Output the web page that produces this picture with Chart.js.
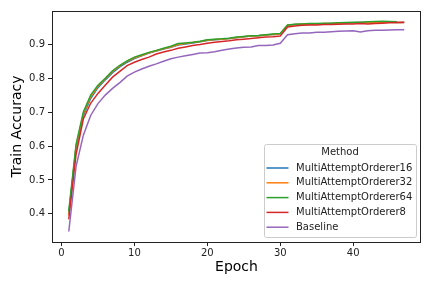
<!DOCTYPE html>
<html>
<head>
<meta charset="utf-8">
<script src="https://cdn.jsdelivr.net/npm/chart.js@4/dist/chart.umd.min.js"></script>
<style>
  html, body { margin: 0; padding: 0; background: #fff; }
  canvas { display: block; }
</style>
</head>
<body>
<canvas id="acc-chart" width="432" height="288"></canvas>
<script>

// epochs 1..47
const epochs = [
   1,  2,  3,  4,  5,  6,  7,  8,  9, 10,
  11, 12, 13, 14, 15, 16, 17, 18, 19, 20,
  21, 22, 23, 24, 25, 26, 27, 28, 29, 30,
  31, 32, 33, 34, 35, 36, 37, 38, 39, 40,
  41, 42, 43, 44, 45, 46, 47
];

const methods = [
  "MultiAttemptOrderer16",
  "MultiAttemptOrderer32",
  "MultiAttemptOrderer64",
  "MultiAttemptOrderer8",
  "Baseline"
];

const colors = ["#1f77b4", "#ff7f0e", "#2ca02c", "#d62728", "#9467bd"];

const mao16 = [
  0.400, 0.595, 0.690, 0.740, 0.772, 0.795, 0.816, 0.833, 0.847, 0.858,
  0.866, 0.874, 0.880, 0.886, 0.891, 0.898, 0.901, 0.904, 0.907, 0.911,
  0.913, 0.915, 0.917, 0.919, 0.922, 0.924, 0.925, 0.927, 0.929, 0.930,
  0.955, 0.958, 0.959, 0.959, 0.960, 0.960, 0.961, 0.962, 0.962, 0.963,
  0.964, 0.964, 0.965, 0.966, 0.965, 0.964, 0.964
];

const mao32 = [
  0.395, 0.600, 0.695, 0.745, 0.776, 0.798, 0.820, 0.836, 0.850, 0.860,
  0.867, 0.875, 0.881, 0.887, 0.892, 0.899, 0.902, 0.905, 0.908, 0.912,
  0.914, 0.915, 0.917, 0.920, 0.922, 0.924, 0.925, 0.927, 0.929, 0.931,
  0.956, 0.958, 0.959, 0.960, 0.960, 0.961, 0.961, 0.962, 0.963, 0.963,
  0.964, 0.963, 0.964, 0.965, 0.965, 0.964, 0.964
];

// 46 epochs only
const mao64 = [
  0.408, 0.605, 0.700, 0.750, 0.779, 0.800, 0.822, 0.838, 0.851, 0.862,
  0.869, 0.876, 0.882, 0.888, 0.894, 0.902, 0.904, 0.906, 0.909, 0.913,
  0.915, 0.916, 0.918, 0.921, 0.923, 0.925, 0.926, 0.928, 0.930, 0.932,
  0.957, 0.959, 0.960, 0.961, 0.961, 0.962, 0.962, 0.963, 0.964, 0.965,
  0.965, 0.966, 0.967, 0.968, 0.967, 0.966
];

const mao8 = [
  0.384, 0.575, 0.680, 0.726, 0.755, 0.779, 0.803, 0.820, 0.837, 0.847,
  0.855, 0.862, 0.871, 0.877, 0.882, 0.888, 0.892, 0.896, 0.899, 0.903,
  0.906, 0.908, 0.910, 0.913, 0.915, 0.917, 0.919, 0.921, 0.922, 0.924,
  0.951, 0.954, 0.956, 0.957, 0.957, 0.958, 0.958, 0.959, 0.960, 0.960,
  0.961, 0.960, 0.961, 0.962, 0.963, 0.964, 0.965
];

const baseline = [
  0.348, 0.540, 0.632, 0.690, 0.725, 0.750, 0.770, 0.787, 0.806, 0.818,
  0.827, 0.835, 0.842, 0.850, 0.857, 0.862, 0.866, 0.870, 0.874, 0.875,
  0.878, 0.882, 0.886, 0.889, 0.891, 0.892, 0.896, 0.896, 0.898, 0.903,
  0.928, 0.931, 0.933, 0.933, 0.935, 0.935, 0.937, 0.938, 0.939, 0.940,
  0.936, 0.940, 0.941, 0.941, 0.942, 0.943, 0.943
];

const xTicks = [0, 10, 20, 30, 40];
const yTicks = [0.4, 0.5, 0.6, 0.7, 0.8, 0.9];

const series = [mao16, mao32, mao64, mao8, baseline];


/**
 * box round the plot, matplotlib style
 */
const frame = {
  id: "frame",
  afterDatasetsDraw(chart) {
    const { ctx, chartArea: a } = chart;
    ctx.save();
    ctx.strokeStyle = "#222";
    ctx.lineWidth = 1;
    ctx.strokeRect(a.left + 0.5, a.top + 0.5, a.right - a.left - 1, a.bottom - a.top);
    ctx.restore();
  }
};


/**
 * legend in the lower right, inside the axes
 */
const boxLegend = {
  id: "boxLegend",
  afterDraw(chart) {
    const { ctx, chartArea: a } = chart;
    const w = 152, h = 93;
    const x0 = a.right - 5 - w;
    const y0 = a.bottom - 5 - h;

    ctx.save();
    ctx.fillStyle = "rgba(255,255,255,0.8)";
    ctx.strokeStyle = "#cccccc";
    ctx.lineWidth = 1;
    ctx.beginPath();
    ctx.roundRect(x0 + 0.5, y0 + 0.5, w, h, 2);
    ctx.fill();
    ctx.stroke();

    ctx.fillStyle = "#222";
    ctx.font = "10px 'DejaVu Sans'";
    ctx.textBaseline = "middle";
    ctx.textAlign = "center";
    ctx.fillText("Method", x0 + w / 2, y0 + 8.5);

    ctx.textAlign = "left";
    chart.data.datasets.forEach((ds, i) => {
      const y = y0 + 24 + i * 14.8;
      ctx.strokeStyle = ds.borderColor;
      ctx.lineWidth = 1.5;
      ctx.beginPath();
      ctx.moveTo(x0 + 2.5, y);
      ctx.lineTo(x0 + 24.5, y);
      ctx.stroke();
      ctx.fillStyle = "#222";
      ctx.fillText(ds.label, x0 + 32, y);
    });
    ctx.restore();
  }
};


const datasets = methods.map((name, i) => ({
  label: name,
  data: series[i].map((v, k) => ({ x: epochs[k], y: v })),
  borderColor: colors[i],
  backgroundColor: colors[i],
  borderWidth: 1.5,
  pointRadius: 0,
  fill: false,
  tension: 0,
  order: methods.length - i
}));


new Chart(
  document.getElementById("acc-chart"),
  {
    type: "line",
    data: { datasets: datasets },
    plugins: [frame, boxLegend],
    options: {
      responsive: false,
      animation: false,
      devicePixelRatio: 1,
      layout: {
        padding: { left: 0, top: 11, right: 11, bottom: 0 }
      },
      plugins: {
        legend: { display: false },
        tooltip: { enabled: false }
      },
      scales: {
        x: {
          type: "linear",
          min: -1.3,
          max: 49.3,
          afterFit(scale) { scale.height = 46; },
          afterBuildTicks(scale) {
            scale.ticks = xTicks.map(v => ({ value: v }));
          },
          grid: {
            drawOnChartArea: false,
            tickLength: 4,
            color: "#222"
          },
          border: { display: false },
          ticks: {
            padding: 1,
            color: "#222",
            font: { family: "'DejaVu Sans'", size: 10 },
            callback: v => String(v)
          },
          title: {
            display: true,
            text: "Epoch",
            color: "#000",
            font: { family: "'DejaVu Sans'", size: 14 },
            padding: { top: 0, bottom: 12 }
          }
        },
        y: {
          min: 0.317,
          max: 0.998,
          afterFit(scale) { scale.width = 52; },
          afterBuildTicks(scale) {
            scale.ticks = yTicks.map(v => ({ value: v }));
          },
          grid: {
            drawOnChartArea: false,
            tickLength: 4,
            color: "#222"
          },
          border: { display: false },
          ticks: {
            padding: 3,
            color: "#222",
            font: { family: "'DejaVu Sans'", size: 10 },
            callback: v => v.toFixed(1)
          },
          title: {
            display: true,
            text: "Train Accuracy",
            color: "#000",
            font: { family: "'DejaVu Sans'", size: 14 },
            padding: { top: 9, bottom: 0 }
          }
        }
      }
    }
  }
);

</script>
</body>
</html>
